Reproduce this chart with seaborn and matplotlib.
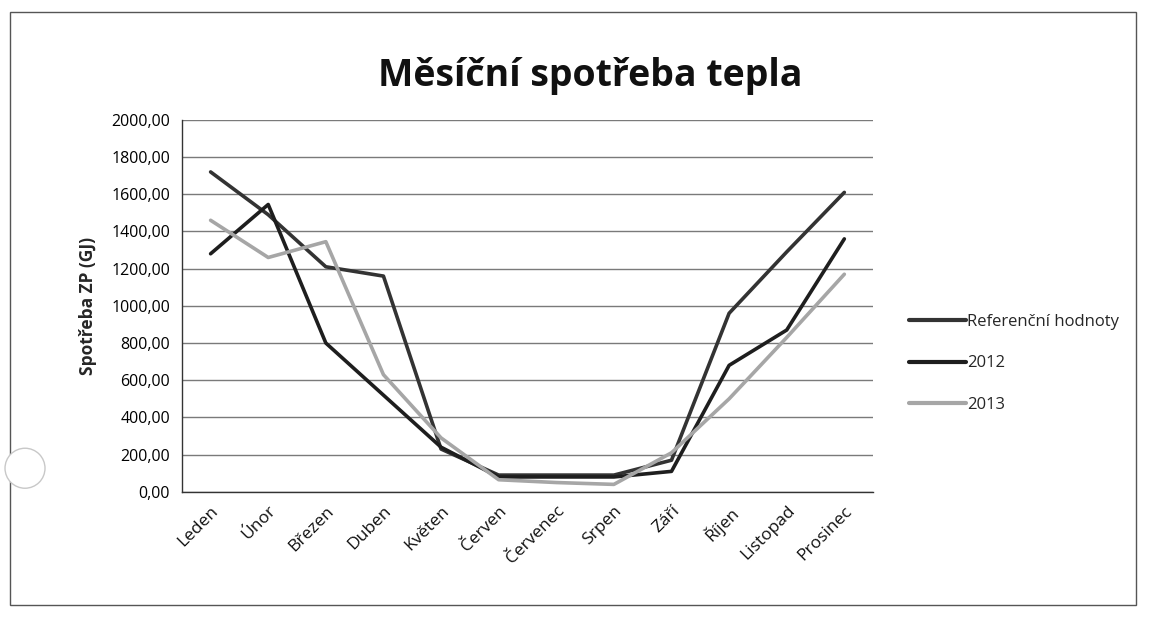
import pandas as pd
import matplotlib
matplotlib.use("Agg")
import matplotlib.pyplot as plt
from matplotlib.patches import Rectangle, Ellipse
from matplotlib.ticker import FixedLocator, FuncFormatter
import seaborn as sns

# Data
months = ["Leden", "Únor", "Březen", "Duben", "Květen", "Červen",
          "Červenec", "Srpen", "Září", "Říjen", "Listopad", "Prosinec"]
referencni = [1720, 1490, 1210, 1160, 230, 90, 90, 90, 170, 960, 1290, 1610]
rok_2012 = [1280, 1545, 800, 520, 240, 80, 80, 80, 110, 680, 870, 1360]
rok_2013 = [1460, 1260, 1345, 630, 290, 65, 50, 40, 210, 500, 830, 1170]
series_names = ["Referenční hodnoty", "2012", "2013"]
colors = ["#333333", "#1e1e1e", "#a6a6a6"]

rows = []
for name, vals in zip(series_names, [referencni, rok_2012, rok_2013]):
    for m, v in zip(months, vals):
        rows.append({"Měsíc": m, "Spotřeba": v, "Řada": name})
df = pd.DataFrame(rows)
df["Měsíc"] = pd.Categorical(df["Měsíc"], categories=months, ordered=True)
df["pos"] = df["Měsíc"].cat.codes

sns.set_style("white")
plt.rcParams["font.family"] = ["Open Sans", "DejaVu Sans"]

fig = plt.figure(figsize=(11.58, 6.21), dpi=100)
ax = fig.add_axes([0.157, 0.208, 0.597, 0.599])

sns.lineplot(data=df, x="pos", y="Spotřeba", hue="Řada", hue_order=series_names,
             palette=colors, linewidth=2.6, ax=ax, legend=True)

ax.set_xlim(-0.5, 11.5)
ax.set_ylim(0, 2000)
ax.set_yticks(range(0, 2001, 200))
ax.yaxis.set_major_formatter(FuncFormatter(lambda v, p: f"{v:.2f}".replace(".", ",")))
ax.set_xticks(range(len(months)))
ax.set_xticklabels(months, rotation=45, ha="right", rotation_mode="anchor", fontsize=12.5)
ax.xaxis.set_minor_locator(FixedLocator([i - 0.5 for i in range(len(months) + 1)]))
ax.tick_params(axis="x", which="major", length=0, pad=8, labelcolor="#111111")
ax.tick_params(axis="x", which="minor", length=6, width=0.9, color="#333333", direction="out")
ax.tick_params(axis="y", length=5, width=0.9, color="#333333", direction="out",
               labelsize=11.5, labelcolor="#000000")

ax.grid(axis="y", color="#7a7a7a", linewidth=1.0)
ax.set_axisbelow(True)
for s in ["top", "right"]:
    ax.spines[s].set_visible(False)
for s in ["left", "bottom"]:
    ax.spines[s].set_color("#333333")
    ax.spines[s].set_linewidth(1.0)

ax.set_xlabel("")
ax.set_ylabel("Spotřeba ZP (GJ)", fontsize=12.5, fontweight="bold", labelpad=10)

leg = ax.legend(loc="center left", bbox_to_anchor=(1.03, 0.345), frameon=False,
                fontsize=12, handlelength=3.4, handletextpad=0.1, labelspacing=1.55)
for h in leg.get_lines():
    h.set_linewidth(3)

fig.text(0.51, 0.877, "Měsíční spotřeba tepla", ha="center", va="center",
         fontsize=27, fontweight="bold", color="#111111")

# scanned frame and punch hole
fig.patches.append(Rectangle((0.009, 0.025), 0.972, 0.955, transform=fig.transFigure,
                             fill=False, edgecolor="#555555", linewidth=1.0))
fig.patches.append(Ellipse((0.0216, 0.246), 40 / 1158, 40 / 621, transform=fig.transFigure,
                           facecolor="white", edgecolor="#c8c8c8", linewidth=1.0))

fig.savefig("out.png", dpi=100, facecolor="white")
